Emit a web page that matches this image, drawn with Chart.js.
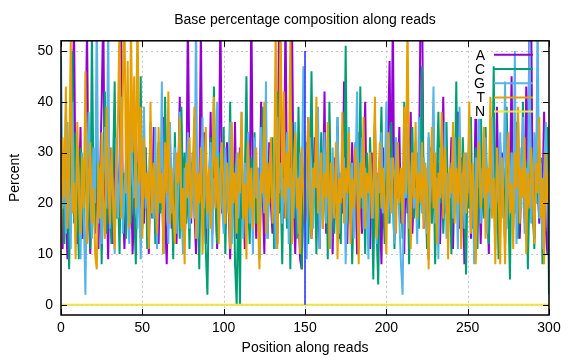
<!DOCTYPE html>
<html><head><meta charset="utf-8">
<script src="https://cdn.jsdelivr.net/npm/chart.js@4"></script>
<style>html,body{margin:0;padding:0;background:#fff}</style>
</head><body>
<canvas id="c" width="576" height="360"></canvas>
<script>
const positions = Array.from({length: 301}, (_, i) => i);
const seriesA = [
24,11,30,17,9,27,14,38,56,19,12,22,35,13,20,29,55,18,10,26,
21,14,33,11,25,40,58,16,23,9,31,19,12,36,22,17,28,54,20,11,
22,34,15,27,10,19,38,18,29,13,24,16,31,21,10,28,18,35,14,23,
12,27,19,37,17,8,25,33,15,21,30,12,24,41,18,27,13,20,57,24,
16,30,19,10,26,22,55,17,34,12,24,20,38,14,29,21,11,25,58,18,
23,15,32,20,9,28,18,36,13,22,31,17,25,11,21,34,16,60,20,27,
13,24,18,40,22,10,29,16,32,20,14,27,21,12,56,23,35,17,59,19,
28,14,57,21,10,26,18,9,7,22,30,15,37,19,13,24,33,16,21,11,
27,20,42,14,23,31,17,10,29,21,35,13,26,18,44,22,12,28,16,32,
19,25,10,34,21,14,27,40,17,23,11,30,22,36,15,26,20,8,31,24,
17,33,48,19,58,13,28,21,35,16,24,10,30,18,26,38,14,22,32,17,
25,57,61,15,27,21,9,31,19,36,14,23,28,12,24,41,18,30,16,22,
33,11,26,20,38,15,29,23,8,27,19,34,13,25,21,42,17,28,12,24,
31,18,23,10,35,20,27,14,39,22,16,30,25,12,33,19,26,45,15,28,
21,36,13,24,30,17,43,23,56,59,19,13,32,25,16,28,22,38,15,10,
21];
const seriesC = [
17,30,12,38,23,7,26,50,16,34,20,9,31,24,13,37,19,27,11,54,
22,15,35,18,28,8,25,42,14,30,21,12,27,44,17,23,10,32,20,26,
13,39,24,16,33,19,8,28,22,45,15,25,31,11,21,36,17,27,12,24,
32,18,25,10,41,21,15,29,23,9,34,19,26,13,39,22,30,16,24,11,
28,20,37,14,25,7,31,18,27,11,2,23,33,17,43,21,12,30,24,19,
35,10,26,21,40,15,28,8,0,24,0,32,17,25,45,20,12,29,22,34,
16,27,9,23,39,19,30,13,25,21,33,11,26,42,18,24,8,31,22,15,
29,7,36,20,25,13,39,21,7,27,17,32,12,24,46,19,28,10,26,22,
34,15,23,30,9,40,21,27,14,25,37,18,12,31,22,51,16,24,28,8,
20,32,26,13,43,19,24,10,30,17,33,22,5,27,15,4,25,39,20,12,
28,23,16,36,21,11,26,32,18,24,13,40,22,29,8,25,35,17,21,30,
15,27,47,19,24,11,33,22,16,28,8,25,38,20,31,14,23,36,18,26,
10,30,21,44,17,25,13,33,22,6,27,19,37,15,24,31,11,26,42,21,
17,35,23,12,28,20,47,16,25,9,32,22,27,14,39,19,5,30,24,18,
36,13,26,21,40,16,28,7,23,31,19,11,33,24,17,29,8,25,21,35,
2];
const seriesG = [
49,19,28,14,36,23,11,40,21,16,32,25,9,30,18,2,26,38,22,13,
31,20,58,16,27,12,24,35,19,56,15,28,22,10,33,17,25,41,14,23,
29,18,12,37,24,21,33,15,27,9,23,39,19,26,13,31,22,17,35,11,
25,20,44,16,28,23,12,36,18,26,31,14,22,38,19,10,27,24,34,15,
21,30,17,57,13,26,23,37,19,28,15,24,32,11,25,21,40,16,27,20,
14,31,23,18,36,12,26,22,30,17,24,38,13,28,20,34,16,25,10,33,
21,27,15,35,23,18,44,13,26,31,19,24,11,37,22,28,16,25,20,34,
12,27,23,17,36,21,14,30,24,47,18,9,26,33,19,15,28,23,39,11,
25,20,34,16,27,22,11,31,19,24,37,14,26,21,29,8,23,35,17,28,
13,25,42,19,24,33,15,27,21,9,30,23,17,36,12,26,22,34,18,25,
40,16,23,29,20,12,33,24,17,8,2,27,21,35,15,25,30,19,23,12,
37,22,18,29,24,14,34,20,27,43,16,25,9,31,23,19,36,13,26,21,
28,17,33,24,11,39,20,26,15,30,22,35,18,25,8,29,23,41,16,27,
21,33,14,25,19,37,23,11,28,20,34,17,24,44,15,26,21,30,18,50,
12,25,31,19,37,14,27,22,54,16,24,34,20,58,17,28,11,26,36,23,
27];
const seriesT = [
11,33,21,43,15,27,52,18,24,9,36,22,14,29,19,46,12,25,32,16,
23,10,7,28,17,34,20,13,39,25,16,31,21,11,27,36,57,17,42,59,
22,48,15,56,30,45,19,61,24,39,13,33,21,26,11,40,18,28,23,14,
35,20,26,10,32,22,42,16,27,19,12,30,24,37,15,23,8,28,21,33,
17,25,39,13,26,20,31,10,24,35,18,27,15,22,41,19,29,12,25,32,
21,16,28,23,11,36,20,26,14,30,22,38,17,24,9,32,19,27,15,23,
31,18,7,26,22,40,14,28,20,33,16,24,56,11,27,59,21,42,17,30,
23,53,12,26,34,19,25,10,31,22,16,28,37,20,13,27,23,41,18,24,
30,15,26,21,36,11,28,23,17,32,9,25,20,38,16,27,22,34,12,25,
19,31,24,8,28,21,37,15,26,22,30,17,25,41,13,24,32,19,27,21,
10,34,23,18,29,25,14,32,20,27,16,39,22,57,24,11,30,21,36,17,
26,20,32,15,28,23,7,25,35,19,30,12,26,21,38,17,31,24,9,27,
22,36,16,27,20,33,11,25,30,18,23,40,14,28,21,8,26,32,19,24,
35,13,27,22,41,17,25,8,31,23,8,29,20,8,26,34,18,24,11,30,
23,39,16,27,21,33,10,26,19,31,24,12,28,22,37,17,25,8,30,20,
26];
const seriesN = [
0,0,0,0,0,0,0,0,0,0,0,0,0,0,0,0,0,0,0,0,
0,0,0,0,0,0,0,0,0,0,0,0,0,0,0,0,0,0,0,0,
0,0,0,0,0,0,0,0,0,0,0,0,0,0,0,0,0,0,0,0,
0,0,0,0,0,0,0,0,0,0,0,0,0,0,0,0,0,0,0,0,
0,0,0,0,0,0,0,0,0,0,0,0,0,0,0,0,0,0,0,0,
0,0,0,0,0,0,0,0,0,0,0,0,0,0,0,0,0,0,0,0,
0,0,0,0,0,0,0,0,0,0,0,0,0,0,0,0,0,0,0,0,
0,0,0,0,0,0,0,0,0,0,0,0,0,0,0,0,0,0,0,0,
0,0,0,0,0,0,0,0,0,0,0,0,0,0,0,0,0,0,0,0,
0,0,0,0,0,0,0,0,0,0,0,0,0,0,0,0,0,0,0,0,
0,0,0,0,0,0,0,0,0,0,0,0,0,0,0,0,0,0,0,0,
0,0,0,0,0,0,0,0,0,0,0,0,0,0,0,0,0,0,0,0,
0,0,0,0,0,0,0,0,0,0,0,0,0,0,0,0,0,0,0,0,
0,0,0,0,0,0,0,0,0,0,0,0,0,0,0,0,0,0,0,0,
0,0,0,0,0,0,0,0,0,0,0,0,0,0,0,0,0,0,0,0,
0];
const boundaryX = [150, 150];
const boundaryY = [0, 50];
const xTicks = [0, 50, 100, 150, 200, 250, 300];
const yTicks = [0, 10, 20, 30, 40, 50];
const seriesNames = ['A', 'C', 'G', 'T', 'N'];
const seriesValues = [seriesA, seriesC, seriesG, seriesT, seriesN];
const seriesColors = ['#9400d3', '#009e73', '#56b4e9', '#e69f00', '#f0e442'];

const FONT = '"Liberation Sans", Arial, Helvetica, sans-serif';
const font = {family: FONT, size: 14, weight: 'normal'};

function pts(vals) {
  const out = [];
  for (let i = 0; i < vals.length && i < positions.length; i++) out.push({x: positions[i], y: vals[i]});
  return out;
}

const datasets = seriesValues.map((vals, i) => ({
  label: seriesNames[i],
  data: pts(vals),
  borderColor: seriesColors[i],
  backgroundColor: seriesColors[i],
  borderWidth: 2,
  pointRadius: 0,
  tension: 0,
  fill: false,
  clip: 0,
  order: 4 - i
}));
datasets.push({
  label: 'boundary',
  data: boundaryX.map((x, i) => ({x: x, y: boundaryY[i]})),
  borderColor: '#1f2cff',
  borderWidth: 1.5,
  pointRadius: 0,
  fill: false,
  clip: 0,
  order: -1
});

const gnuFrame = {
  id: 'gnuFrame',
  beforeDatasetsDraw(chart) {
    const {ctx, chartArea: a, scales: {x, y}} = chart;
    ctx.save();
    ctx.strokeStyle = '#c4c4c4';
    ctx.lineWidth = 1;
    ctx.setLineDash([2, 3]);
    xTicks.forEach(v => {
      if (v <= x.min || v >= x.max) return;
      const px = Math.round(x.getPixelForValue(v)) + 0.5;
      ctx.beginPath(); ctx.moveTo(px, a.top); ctx.lineTo(px, a.bottom); ctx.stroke();
    });
    yTicks.forEach(v => {
      const py = Math.round(y.getPixelForValue(v)) + 0.5;
      ctx.beginPath(); ctx.moveTo(a.left, py); ctx.lineTo(a.right, py); ctx.stroke();
    });
    ctx.restore();
  },
  afterDatasetsDraw(chart) {
    const {ctx, chartArea: a, scales: {x, y}} = chart;
    ctx.save();
    // legend
    ctx.fillStyle = '#fff';
    ctx.fillRect(a.right - 77, a.top + 2, 15, 76);
    ctx.font = '14px ' + FONT;
    ctx.textAlign = 'right';
    ctx.textBaseline = 'middle';
    seriesNames.forEach((n, i) => {
      const ry = a.top + 14 + i * 14.2;
      ctx.fillStyle = '#000';
      ctx.fillText(n, a.right - 64, ry + 1);
      ctx.strokeStyle = seriesColors[i];
      ctx.lineWidth = 2;
      ctx.beginPath(); ctx.moveTo(a.right - 55, ry); ctx.lineTo(a.right - 16, ry); ctx.stroke();
    });
    // frame
    ctx.strokeStyle = '#000';
    ctx.lineWidth = 1.5;
    ctx.strokeRect(a.left, a.top, a.right - a.left, a.bottom - a.top);
    // ticks (inward, mirrored)
    ctx.lineWidth = 1;
    const tl = 6;
    xTicks.forEach(v => {
      const px = Math.round(x.getPixelForValue(v)) + 0.5;
      ctx.beginPath();
      ctx.moveTo(px, a.bottom); ctx.lineTo(px, a.bottom - tl);
      ctx.moveTo(px, a.top); ctx.lineTo(px, a.top + tl);
      ctx.stroke();
    });
    yTicks.forEach(v => {
      const py = Math.round(y.getPixelForValue(v)) + 0.5;
      ctx.beginPath();
      ctx.moveTo(a.left, py); ctx.lineTo(a.left + tl, py);
      ctx.moveTo(a.right, py); ctx.lineTo(a.right - tl, py);
      ctx.stroke();
    });
    ctx.restore();
  }
};

new Chart(document.getElementById('c'), {
  type: 'line',
  data: {datasets},
  plugins: [gnuFrame],
  options: {
    responsive: false,
    animation: false,
    devicePixelRatio: 1,
    layout: {padding: {left: 0, right: 27, top: 0, bottom: 0}},
    plugins: {
      legend: {display: false},
      tooltip: {enabled: false},
      title: {
        display: true,
        text: 'Base percentage composition along reads',
        font: font,
        color: '#000',
        fullSize: false,
        padding: {top: 12, bottom: 12}
      }
    },
    scales: {
      x: {
        type: 'linear',
        min: 0, max: 300,
        afterBuildTicks: s => { s.ticks = xTicks.map(v => ({value: v})); },
        afterFit: s => { s.height = 45; },
        ticks: {font: font, color: '#000', padding: 5, maxRotation: 0, autoSkip: false},
        grid: {display: false, drawTicks: false},
        border: {display: false},
        title: {display: true, text: 'Position along reads', font: font, color: '#000', padding: {top: 0, bottom: 3}}
      },
      y: {
        type: 'linear',
        min: -2, max: 52,
        afterBuildTicks: s => { s.ticks = yTicks.map(v => ({value: v})); },
        afterFit: s => { s.width = 61; },
        ticks: {font: font, color: '#000', padding: 8},
        grid: {display: false, drawTicks: false},
        border: {display: false},
        title: {display: true, text: 'Percent', font: font, color: '#000', padding: {top: 7, bottom: 0}}
      }
    }
  }
});
</script>
</body></html>
